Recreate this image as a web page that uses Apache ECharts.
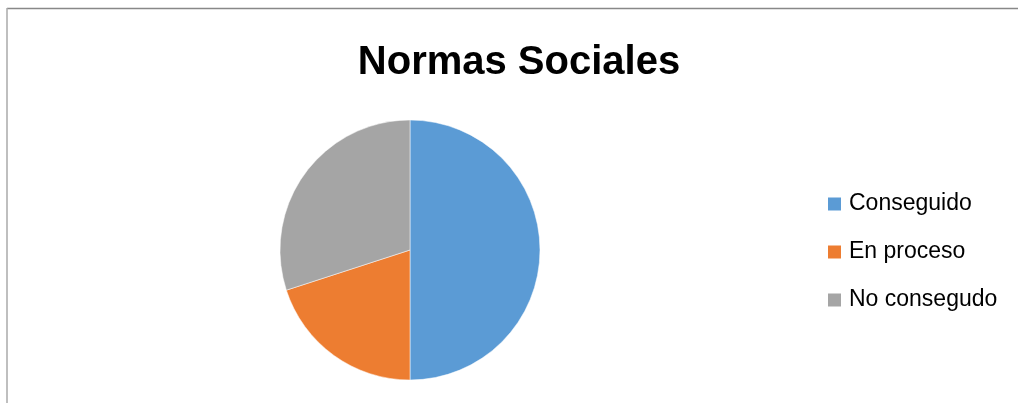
<!DOCTYPE html>
<html><head><meta charset="utf-8">
<script src="https://cdn.jsdelivr.net/npm/echarts@6/dist/echarts.min.js"></script>
<style>html,body{margin:0;padding:0;background:#fff;}#c{width:1018px;height:403px;}</style>
</head><body><div id="c"></div>
<script>
const categories = ['Conseguido', 'En proceso', 'No consegudo'];
const values = [50, 20, 30];
const colors = ['#5B9BD5', '#ED7D31', '#A5A5A5'];
const titleText = 'Normas Sociales';

const chart = echarts.init(document.getElementById('c'));
chart.setOption({
  animation: false,
  backgroundColor: '#fff',
  title: {
    text: titleText, left: 514, top: 38, textAlign: 'center',
    textStyle: { fontFamily: 'Liberation Sans', fontWeight: 'bold', fontSize: 40, color: '#000' }
  },
  legend: {
    orient: 'vertical', left: 826, top: 191, padding: 0,
    itemWidth: 15, itemHeight: 15, itemGap: 22, icon: 'rect',
    textStyle: { fontFamily: 'Liberation Sans', fontSize: 23, color: '#000', lineHeight: 26, padding: [0,0,0,2] },
    data: categories
  },
  graphic: [
    { type: 'line', shape: { x1: 7, y1: 8.5, x2: 1018, y2: 8.5 }, style: { stroke: '#888', lineWidth: 1.5 } },
    { type: 'line', shape: { x1: 7, y1: 8, x2: 7, y2: 403 }, style: { stroke: '#aaa', lineWidth: 1.5 } }
  ],
  series: [{
    type: 'pie', center: [410, 250], radius: 130, startAngle: 90, clockwise: true,
    label: { show: false }, labelLine: { show: false },
    itemStyle: { borderColor: '#fff', borderWidth: 0.5 },
    emphasis: { disabled: true },
    data: categories.map((n, i) => ({ name: n, value: values[i], itemStyle: { color: colors[i] } }))
  }]
});
</script></body></html>
